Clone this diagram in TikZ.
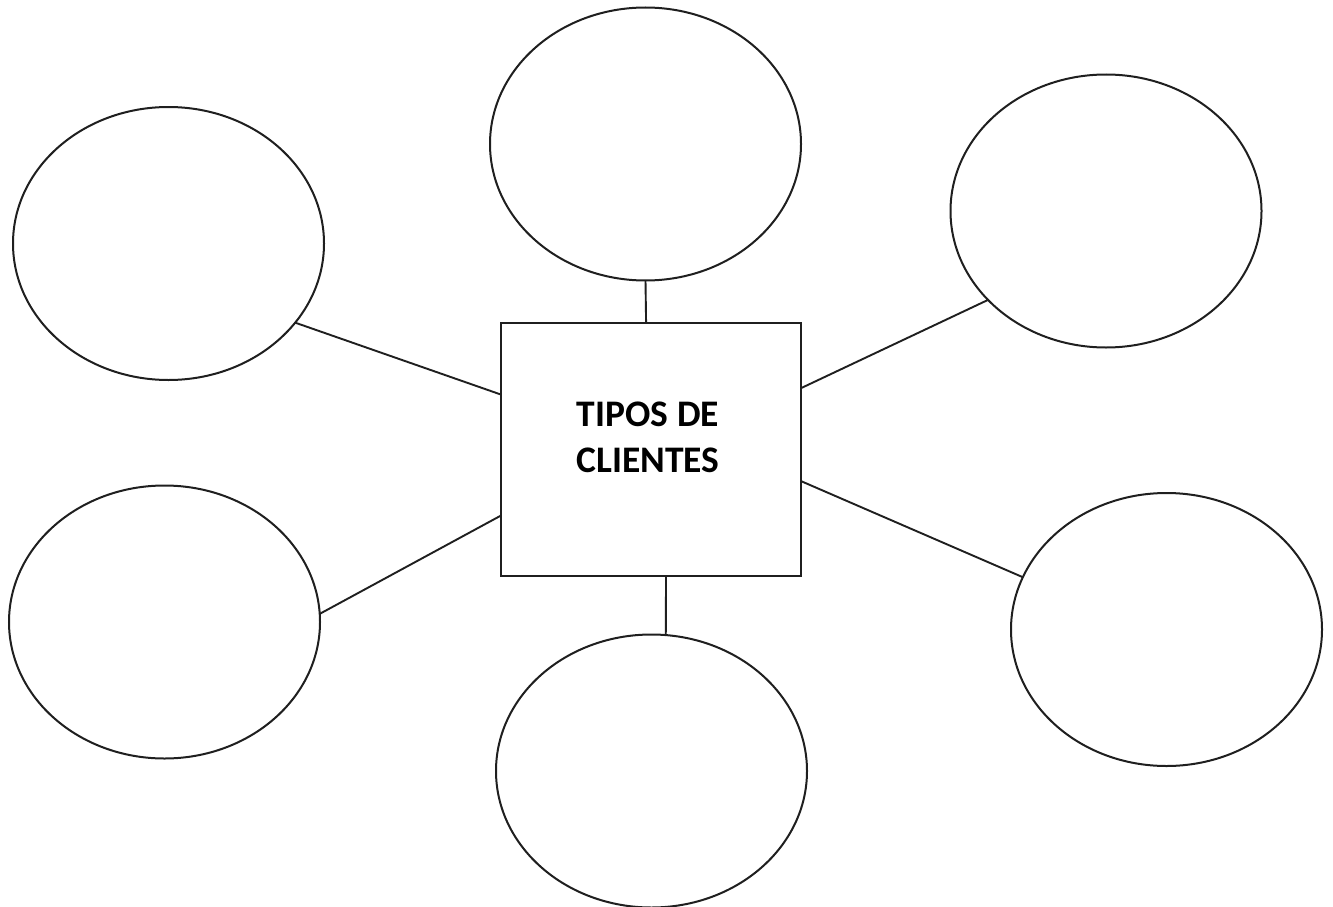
\documentclass[tikz,border=0pt]{standalone}
\usepackage{fontspec}
\setmainfont{Carlito}
\usetikzlibrary{shapes.geometric}

\tikzset{
  outline/.style={draw=black!88, line width=2pt},
  bubble/.style={outline, ellipse, minimum width=311pt, minimum height=273pt,
                 inner sep=0pt, outer sep=0pt},
  hub/.style={outline, rectangle, minimum width=300pt, minimum height=253pt,
              inner sep=0pt, outer sep=0pt},
  link/.style={draw=black!88, line width=1.9pt},
  hubtitle/.style={inner sep=0pt, align=center,
                   font=\fontsize{37.5}{46}\selectfont\bfseries}
}

\begin{document}
\begin{tikzpicture}[x=1pt, y=-1pt]
  \useasboundingbox (0,0) rectangle (1333,907);

  % central box and its title
  \node[hub] (box) at (650.5,449) {};
  \node[hubtitle] (title) at (648,437.7) {TIPOS DE\\CLIENTES};

  % surrounding bubbles
  \node[bubble] (e1) at (168.5,243.5) {};
  \node[bubble] (e2) at (645.5,144) {};
  \node[bubble] (e3) at (1106,211) {};
  \node[bubble] (e4) at (164.5,622) {};
  \node[bubble] (e5) at (651.5,771) {};
  \node[bubble] (e6) at (1166.5,629.5) {};

  % spokes from the box to each bubble
  \draw[link] (box.160.9) -- (e1.-32.5);
  \draw[link] (box.92) -- (e2.-90);
  \draw[link] (box.22.1) -- (e3.-143.7);
  \draw[link] (box.-156.8) -- (e4.3.6);
  \draw[link] (box.-83.5) -- (e5.84.7);
  \draw[link] (box.-12.6) -- (e6.160.3);
\end{tikzpicture}
\end{document}
